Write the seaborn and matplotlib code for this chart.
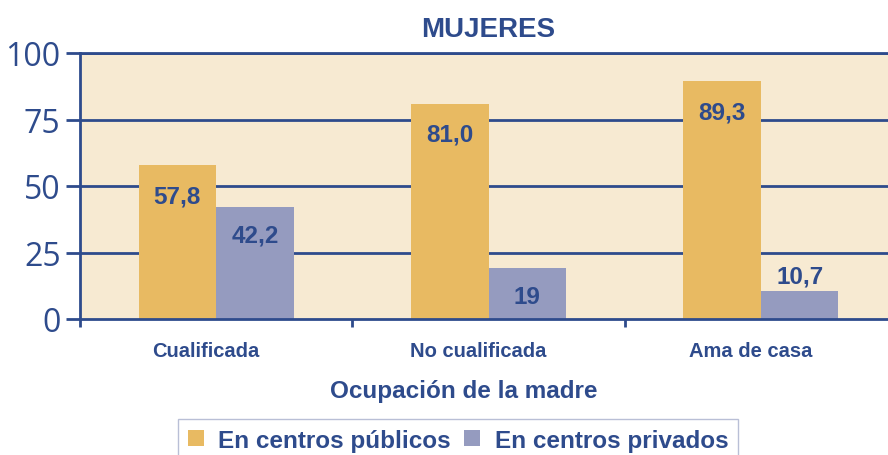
import matplotlib
matplotlib.use("Agg")
import matplotlib.pyplot as plt
import matplotlib.transforms as mtransforms
import seaborn as sns
import pandas as pd
from matplotlib.patches import Patch

categories = ["Cualificada", "No cualificada", "Ama de casa"]
series = ["En centros públicos", "En centros privados"]
publicos = [57.8, 81.0, 89.3]
privados = [42.2, 19, 10.7]
publicos_labels = ["57,8", "81,0", "89,3"]
privados_labels = ["42,2", "19", "10,7"]
yticks = [0, 25, 50, 75, 100]

DARK = "#2E4B8C"
GOLD = "#E8BA62"
LILAC = "#959BBF"
BG = "#F7EAD2"

df = pd.DataFrame({
    "cat": categories * 2,
    "serie": [series[0]] * 3 + [series[1]] * 3,
    "val": publicos + privados,
})

sns.set_style("white")
plt.rcParams["font.family"] = ["Liberation Sans", "DejaVu Sans"]

fig = plt.figure(figsize=(8.88, 4.56), dpi=100)
ax = fig.add_axes([80 / 888, 136 / 456, 817 / 888, 266 / 456])
ax.set_facecolor(BG)

sns.barplot(data=df, x="cat", y="val", hue="serie", order=categories,
            hue_order=series, palette=[GOLD, LILAC], width=0.57,
            saturation=1, ax=ax, legend=False, zorder=3, linewidth=0)

ax.set_ylim(0, 100)
ax.set_xlim(-0.5, 2.5)
ax.set_yticks(yticks)
ax.set_yticklabels([str(t) for t in yticks], fontsize=23, color=DARK,
                   family=["Open Sans", "DejaVu Sans"])
ax.tick_params(axis="y", left=True, direction="out", length=10, width=2, color=DARK, pad=4)
for t in yticks[1:]:
    ax.axhline(t, color=DARK, lw=2, zorder=2)

ax.set_xticks(range(3))
ax.set_xticklabels(categories, fontsize=14.5, fontweight="bold", color=DARK)
ax.tick_params(axis="x", which="major", bottom=True, length=0, pad=16)
ax.set_xticks([-0.5, 0.5, 1.5], minor=True)
ax.tick_params(axis="x", which="minor", bottom=True, direction="out", length=6, width=2, color=DARK)
shift = mtransforms.ScaledTranslation(-10 / 100, 0, fig.dpi_scale_trans)
for lab in ax.get_xticklabels():
    lab.set_transform(lab.get_transform() + shift)

ax.set_xlabel("Ocupación de la madre", fontsize=17.5, fontweight="bold", color=DARK)
ax.xaxis.set_label_coords((464 - 80) / 817, -60 / 266)
ax.set_ylabel("")
ax.set_title("MUJERES", fontsize=20, fontweight="bold", color=DARK, pad=12, x=0.5)

ax.spines["right"].set_visible(False)
for s in ["left", "bottom", "top"]:
    ax.spines[s].set_color(DARK)
    ax.spines[s].set_linewidth(2)
    ax.spines[s].set_zorder(4)

bars_pub = ax.containers[0]
bars_priv = ax.containers[1]
for bar, v, lab in zip(bars_pub, publicos, publicos_labels):
    ax.text(bar.get_x() + bar.get_width() / 2, v - 11.5, lab, ha="center", va="center",
            fontsize=17.5, fontweight="bold", color=DARK, zorder=5)
for bar, v, lab in zip(bars_priv, privados, privados_labels):
    y = v - 10.5 if v > 15 else v + 5.5
    ax.text(bar.get_x() + bar.get_width() / 2, y, lab, ha="center", va="center",
            fontsize=17.5, fontweight="bold", color=DARK, zorder=5)

handles = [Patch(facecolor=GOLD, edgecolor="none"), Patch(facecolor=LILAC, edgecolor="none")]
leg = fig.legend(handles, series, loc="upper center", bbox_to_anchor=(458 / 888, 36 / 456),
                 ncol=2, frameon=True, fancybox=False, handlelength=0.65, handleheight=0.65,
                 handletextpad=0.6, columnspacing=0.55, borderpad=0.4, borderaxespad=0,
                 prop={"weight": "bold", "size": 17.5})
leg.get_frame().set_edgecolor("#A8B0CC")
leg.get_frame().set_linewidth(1)
for t in leg.get_texts():
    t.set_color(DARK)

fig.savefig("out.png", dpi=100)
